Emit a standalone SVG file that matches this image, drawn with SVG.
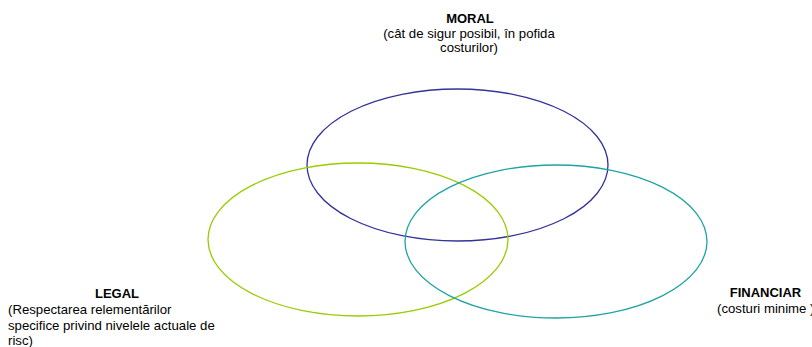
<svg xmlns="http://www.w3.org/2000/svg" width="812" height="347" viewBox="0 0 812 347">
<style>
text{font-family:"Liberation Sans",Arial,sans-serif;font-size:13.2px;fill:#000}
.b{font-weight:bold;font-size:13px}
.c{text-anchor:middle}
ellipse{fill:none;stroke-width:1.3}
</style>
<rect width="812" height="347" fill="#fff"/>
<g id="connectors"/>
<g id="moral">
<ellipse cx="457.5" cy="165" rx="150.5" ry="76" stroke="#333399"/>
<text class="b c" x="470" y="23">MORAL</text>
<text class="c" x="469" y="38">(cât de sigur posibil, în pofida</text>
<text class="c" x="469" y="52">costurilor)</text>
</g>
<g id="legal">
<ellipse cx="358" cy="239.5" rx="150" ry="76.5" stroke="#99cc00"/>
<text class="b c" x="117" y="297.5">LEGAL</text>
<text x="8" y="314">(Respectarea relementărilor</text>
<text x="8" y="329.5">specifice privind nivelele actuale de</text>
<text x="8" y="345">risc)</text>
</g>
<g id="financiar">
<ellipse cx="556" cy="241.5" rx="151" ry="76.5" stroke="#1fa3a3"/>
<text class="b c" x="765.5" y="297">FINANCIAR</text>
<text x="717" y="312.5">(costuri minime )</text>
</g>
</svg>
